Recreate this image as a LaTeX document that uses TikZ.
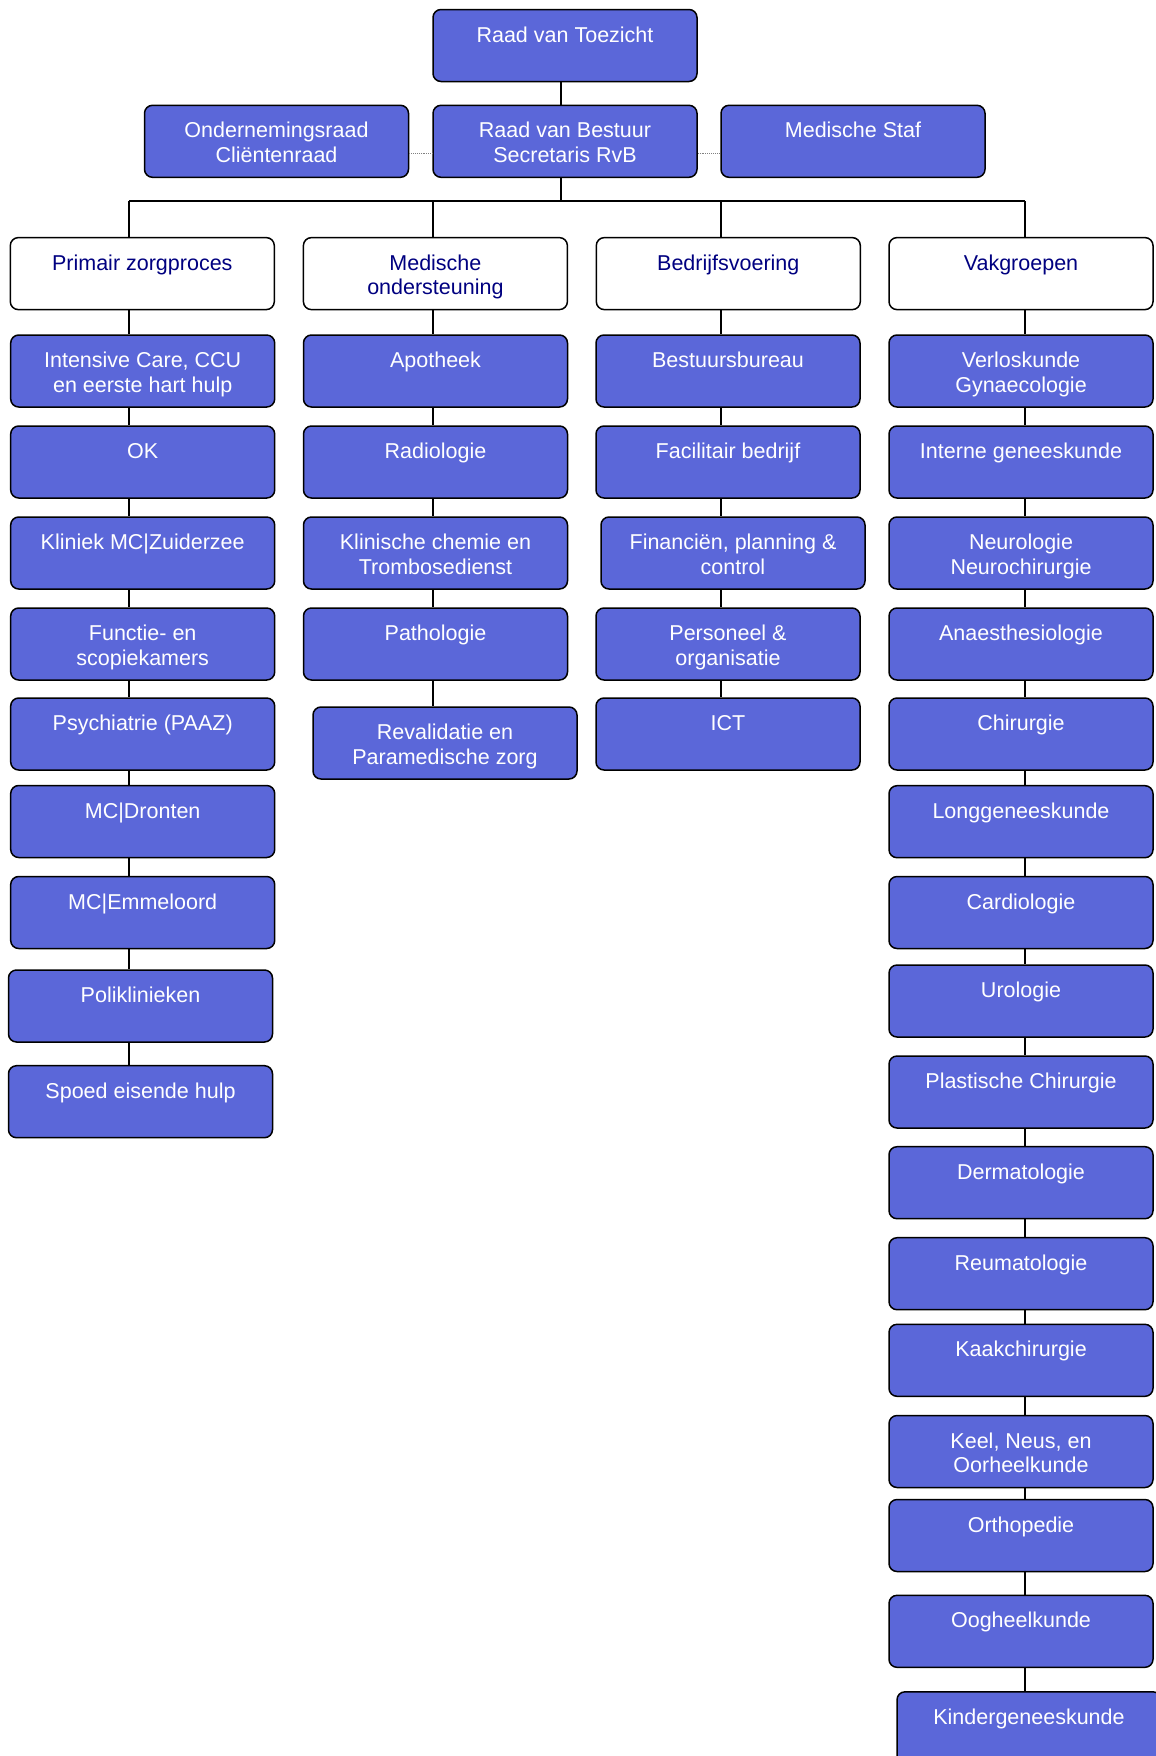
\documentclass[tikz,border=0pt]{standalone}
\usepackage{fontspec}
\setmainfont{Liberation Sans}

\definecolor{unitblue}{RGB}{91,103,217}
\definecolor{headnavy}{RGB}{0,0,128}

\tikzset{
  unit/.style={draw=black, line width=1.5pt, rounded corners=8pt,
    fill=unitblue, text=white, minimum width=264pt, inner xsep=2pt,
    inner ysep=0pt, text height=32.5pt, text depth=39.5pt, align=center,
    font=\fontsize{21.5}{24.5}\selectfont},
  twoline/.style={text height=57pt, text depth=15pt},
  head/.style={unit, fill=white, text=headnavy},
  link/.style={line width=1.4pt},
  sidelink/.style={densely dotted, gray, line width=0.9pt}
}

\begin{document}
\begin{tikzpicture}[x=1pt, y=-1pt]
  \useasboundingbox (0,0) rectangle (1156,1756);
  \clip (0,0) rectangle (1156,1756);

  % board
  \node[unit] (rvt) at (565,45.5) {Raad van Toezicht};
  \node[unit, twoline] (ocr) at (276.5,141.3) {Ondernemingsraad\\Cliëntenraad};
  \node[unit, twoline] (rvb) at (565,141.3) {Raad van Bestuur\\Secretaris RvB};
  \node[unit] (mst) at (853,141.3) {Medische Staf};

  % divisions
  \node[head] (pz) at (142.3,273.6) {Primair zorgproces};
  \node[head, twoline] (mo) at (435.4,273.6) {Medische\\ondersteuning};
  \node[head] (bv) at (728.3,273.6) {Bedrijfsvoering};
  \node[head] (vg) at (1021,273.6) {Vakgroepen};

  % primair zorgproces
  \node[unit, twoline] (ic) at (142.7,371) {Intensive Care, CCU\\en eerste hart hulp};
  \node[unit] (ok) at (142.7,462) {OK};
  \node[unit] (kl) at (142.7,553) {Kliniek MC|Zuiderzee};
  \node[unit, twoline] (fs) at (142.7,644) {Functie- en\\scopiekamers};
  \node[unit] (ps) at (142.7,734) {Psychiatrie (PAAZ)};
  \node[unit] (dr) at (142.7,821.5) {MC|Dronten};
  \node[unit] (em) at (142.7,912.5) {MC|Emmeloord};
  \node[unit] (pk) at (140.5,1006) {Poliklinieken};
  \node[unit] (sp) at (140.5,1101.7) {Spoed eisende hulp};

  % medische ondersteuning
  \node[unit] (ap) at (435.5,371) {Apotheek};
  \node[unit] (ra) at (435.5,462) {Radiologie};
  \node[unit, twoline] (kc) at (435.5,553) {Klinische chemie en\\Trombosedienst};
  \node[unit] (pa) at (435.5,644) {Pathologie};
  \node[unit, twoline] (rv) at (445,743) {Revalidatie en\\Paramedische zorg};

  % bedrijfsvoering
  \node[unit] (bb) at (728,371) {Bestuursbureau};
  \node[unit] (fb) at (728,462) {Facilitair bedrijf};
  \node[unit, twoline] (fi) at (733,553) {Financiën, planning \&\\control};
  \node[unit, twoline] (po) at (728,644) {Personeel \&\\organisatie};
  \node[unit] (ict) at (728,734) {ICT};

  % vakgroepen
  \node[unit, twoline] (vl) at (1021,371) {Verloskunde\\Gynaecologie};
  \node[unit] (ig) at (1021,462) {Interne geneeskunde};
  \node[unit, twoline] (ne) at (1021,553) {Neurologie\\Neurochirurgie};
  \node[unit] (an) at (1021,644) {Anaesthesiologie};
  \node[unit] (ch) at (1021,734) {Chirurgie};
  \node[unit] (lo) at (1021,821.7) {Longgeneeskunde};
  \node[unit] (ca) at (1021,912.5) {Cardiologie};
  \node[unit] (ur) at (1021,1001) {Urologie};
  \node[unit] (pl) at (1021,1092) {Plastische Chirurgie};
  \node[unit] (de) at (1021,1182.7) {Dermatologie};
  \node[unit] (re) at (1021,1273.7) {Reumatologie};
  \node[unit] (ka) at (1021,1360.3) {Kaakchirurgie};
  \node[unit, twoline] (kn) at (1021,1451.5) {Keel, Neus, en\\Oorheelkunde};
  \node[unit] (orth) at (1021,1535.5) {Orthopedie};
  \node[unit] (oo) at (1021,1631.3) {Oogheelkunde};
  \node[unit] (ki) at (1029,1727.8) {Kindergeneeskunde};

  % line positions
  \coordinate (bus) at (0,201);
  \coordinate (sm) at (561,0);
  \coordinate (s1) at (129,0);
  \coordinate (s2) at (433,0);
  \coordinate (s3) at (721,0);
  \coordinate (s4) at (1025,0);

  % top lines
  \draw[link] (rvt.south -| sm) -- (rvb.north -| sm);
  \draw[link] (rvb.south -| sm) -- (sm |- bus);
  \draw[link] (s1 |- bus) -- (s4 |- bus);
  \foreach \s/\h in {s1/pz, s2/mo, s3/bv, s4/vg}
    \draw[link] (\s |- bus) -- (\h.north -| \s);

  % dotted side links
  \draw[sidelink] ([yshift=-12pt]ocr.east) -- ([yshift=-12pt]rvb.west);
  \draw[sidelink] ([yshift=-12pt]rvb.east) -- ([yshift=-12pt]mst.west);

  % columns
  \foreach \a/\b in {pz/ic, ic/ok, ok/kl, kl/fs, fs/ps, ps/dr, dr/em, em/pk, pk/sp}
    \draw[link] (\a.south -| s1) -- (\b.north -| s1);
  \foreach \a/\b in {mo/ap, ap/ra, ra/kc, kc/pa, pa/rv}
    \draw[link] (\a.south -| s2) -- (\b.north -| s2);
  \foreach \a/\b in {bv/bb, bb/fb, fb/fi, fi/po, po/ict}
    \draw[link] (\a.south -| s3) -- (\b.north -| s3);
  \foreach \a/\b in {vg/vl, vl/ig, ig/ne, ne/an, an/ch, ch/lo, lo/ca, ca/ur,
      ur/pl, pl/de, de/re, re/ka, ka/kn, kn/orth, orth/oo, oo/ki}
    \draw[link] (\a.south -| s4) -- (\b.north -| s4);
\end{tikzpicture}
\end{document}
